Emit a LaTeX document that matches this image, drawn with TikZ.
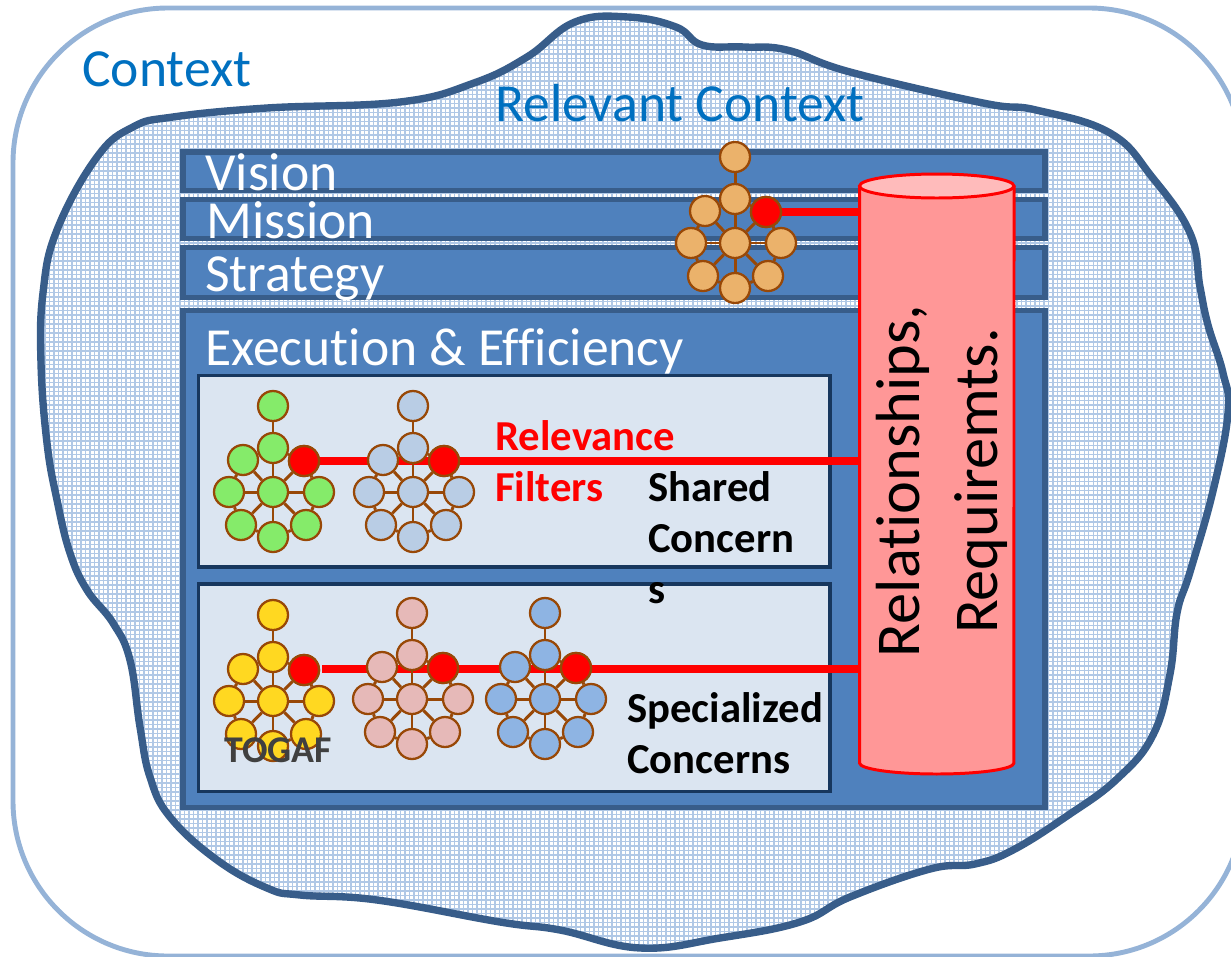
\documentclass[tikz,border=0pt]{standalone}
\usepackage{fontspec}
\setmainfont[Ligatures=NoCommon]{Carlito}
\usetikzlibrary{shapes.geometric}
\definecolor{ctxline}{HTML}{95B3D7}
\definecolor{ctxtext}{HTML}{0070C0}
\definecolor{blobline}{HTML}{385D8A}
\definecolor{meshline}{HTML}{B0C8E6}
\definecolor{layerfill}{HTML}{4F81BD}
\definecolor{boxline}{HTML}{17375E}
\definecolor{boxfill}{HTML}{DBE5F1}
\definecolor{netline}{HTML}{984807}
\definecolor{cylfill}{HTML}{FF9797}
\definecolor{cyltop}{HTML}{FFBBBB}
\definecolor{netorange}{HTML}{EBB26B}
\definecolor{netgreen}{HTML}{85EB6A}
\definecolor{netsteel}{HTML}{B9CDE5}
\definecolor{netyellow}{HTML}{FFD821}
\definecolor{netrose}{HTML}{E6B9B8}
\definecolor{netsky}{HTML}{8EB4E3}
\tikzset{
  layer/.style={draw=blobline,fill=layerfill,line width=3pt},
  concernbox/.style={draw=boxline,fill=boxfill,line width=2pt},
  netnode/.style={circle,draw=netline,line width=1.3pt,inner sep=0pt,minimum size=30*0.02cm},
  netedge/.style={draw=netline,line width=1.7pt},
  filterline/.style={draw=red,line width=4.4pt},
  cylline/.style={draw=red,line width=1.7pt},
  layertext/.style={anchor=base west,inner sep=0pt,text=white,font=\fontsize{30.5}{36}\selectfont},
  ctxlabel/.style={anchor=base west,inner sep=0pt,text=ctxtext,font=\fontsize{30.5}{36}\selectfont},
  boldlabel/.style={anchor=north west,inner sep=0pt,align=left,font=\fontsize{24.3}{29}\selectfont\bfseries}
}
% one net of nine nodes: prefix, x, y, colour
\newcommand{\concernnet}[4]{
  \node[netnode,fill=#4] (#1c) at (#2,#3) {};
  \foreach \nm/\dx/\dy in {top/0/-86,up/0/-44,ul/-30/-32,rd/31/-31,lf/-44/0,rt/46/0,ll/-32/33,lr/33/33,bt/0/45}
    \node[netnode,fill=#4] (#1\nm) at (#2+\dx,#3+\dy) {};
  \node[netnode,fill=red] (#1rd) at (#2+31,#3-31) {};
  \draw[netedge] (#1top) -- (#1up);
  \foreach \nm in {up,ul,rd,lf,rt,ll,lr,bt}
    \draw[netedge] (#1c) -- (#1\nm);
  \foreach \a/\b in {up/ul,ul/lf,lf/ll,ll/bt,bt/lr,lr/rt,rt/rd,rd/up}
    \draw[netedge] (#1\a) -- (#1\b);
}
\begin{document}
\begin{tikzpicture}[x=0.02cm,y=-0.02cm]
\useasboundingbox (0,0) rectangle (1231,957);
\clip (0,0) rectangle (1231,957);
% context and the blob
\draw[ctxline,line width=2.8pt,rounded corners=3.1cm] (13,8) rectangle (1244,956);
\def\blobpath{plot[smooth cycle,tension=0.7] coordinates {
  (97,157) (133,127) (173,117) (267,108) (400,102) (474,83) (527,57) (575,22) (628,17) (676,27)
  (702,45) (744,47) (787,50) (850,72) (983,103) (1036,110) (1110,133) (1152,177) (1190,233)
  (1200,287) (1208,325) (1223,373) (1228,413) (1213,491) (1190,572) (1177,613) (1170,674)
  (1153,735) (1117,779) (1067,816) (1013,850) (975,864) (930,869) (850,897) (800,922) (720,938)
  (640,948) (560,930) (500,922) (377,900) (300,895) (267,888) (217,860) (170,817) (150,777)
  (140,727) (130,660) (113,623) (87,590) (70,553) (57,500) (47,443) (41,363) (43,293) (57,230)}}
\begin{scope}
\clip \blobpath;
\fill[white] (0,0) rectangle (1231,957);
\draw[meshline,line width=0.85pt,step=0.09cm] (0,957) grid (1231,0);
\end{scope}
\draw[blobline,line width=4.2pt] \blobpath;
\node[ctxlabel] (context) at (82,86) {Context};
\node[ctxlabel] (relevant) at (495,121) {Relevant Context};
% the layers
\draw[layer] (183,152) rectangle (1045,190.5);
\draw[layer] (183,199.5) rectangle (1045,238.5);
\draw[layer] (183,247.5) rectangle (1045,297.5);
\draw[layer] (183,310.5) rectangle (1045,807.5);
\node[layertext] (vision) at (205,190) {Vision};
\node[layertext] (mission) at (206,238) {Mission};
\node[layertext] (strategy) at (205,291) {Strategy};
\node[layertext] (execution) at (205,365) {Execution \& Efficiency};
\draw[concernbox] (198.5,375.5) rectangle (830,567);
\draw[concernbox] (198.5,584) rectangle (830,791.5);
% requirements cylinder
\node[minimum width=3.1cm,minimum height=12cm,inner sep=0pt] (cyl) at (936.75,474) {};
\draw[cylline,fill=cylfill] (859.5,186) -- (859.5,763)
  arc[start angle=180,end angle=360,x radius=1.545cm,y radius=0.22cm] -- (1014,186);
\draw[cylline,fill=cyltop] (936.75,186) ellipse [x radius=1.545cm,y radius=0.24cm];
\node[rotate=90,align=center,inner sep=0pt,font=\fontsize{35.5}{44}\selectfont] (reqs) at (942,481) {Relationships,\\Requiremts.};
% relevance filter lines, under the nets
\coordinate (orangefilter) at (766,212);
\coordinate (greenfilter) at (304,461);
\coordinate (yellowfilter) at (322,669);
\draw[filterline] (orangefilter) -- (orangefilter -| cyl.west);
\draw[filterline] (greenfilter) -- (greenfilter -| cyl.west);
\draw[filterline] (yellowfilter) -- (yellowfilter -| cyl.west);
% nets
\concernnet{orange}{735}{243}{netorange}
\concernnet{green}{273}{492}{netgreen}
\concernnet{steel}{413}{492}{netsteel}
\concernnet{yellow}{273}{701}{netyellow}
\concernnet{rose}{412}{699}{netrose}
\concernnet{sky}{545}{699}{netsky}
% labels
\node[boldlabel,text=red] (filters) at (495,420) {Relevance\\Filters};
\node[boldlabel] (shared) at (648,471) {Shared\\Concern\\s};
\node[boldlabel] (specialized) at (627,692) {Specialized\\Concerns};
\node[anchor=base west,inner sep=0pt,font=\fontsize{21.5}{29}\selectfont\bfseries,text=black!75] (togaf) at (224,762) {TOGAF};
\end{tikzpicture}
\end{document}
